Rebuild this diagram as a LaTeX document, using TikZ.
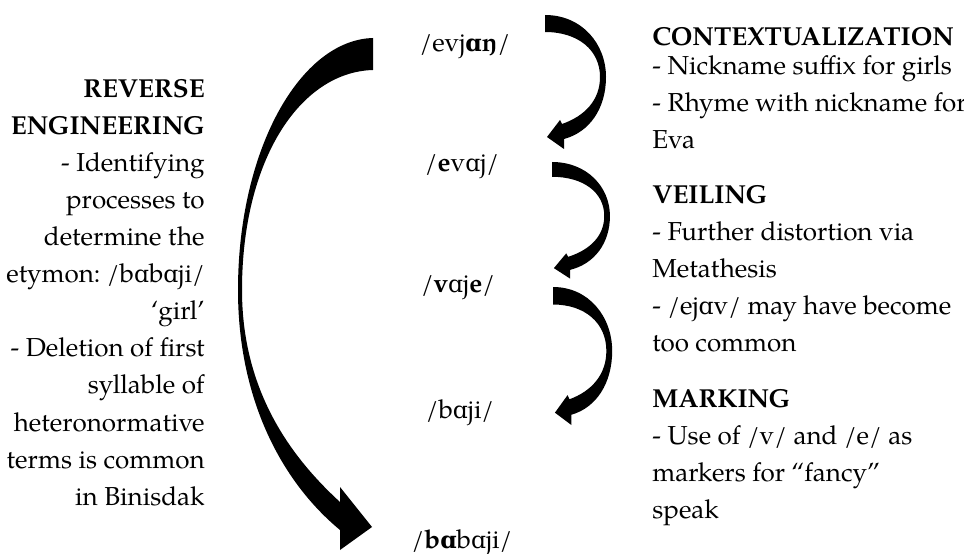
\documentclass[tikz,border=0pt]{standalone}
\usepackage{fontspec}
\setmainfont{texgyrepagella}[Extension=.otf, UprightFont=*-regular, BoldFont=*-bold, ItalicFont=*-italic, BoldItalicFont=*-bolditalic]
\newfontfamily\ipafont{DejaVu Serif}[Scale=MatchLowercase]
\newcommand{\alp}{{\ipafont ɑ}}
\frenchspacing
\usetikzlibrary{positioning}
\tikzstyle{word} = [
    inner sep=0pt,
    anchor=base,
    font=\fontsize{14.8}{21.1}\selectfont
]
\tikzstyle{note} = [
    inner sep=0pt,
    font=\fontsize{14.8}{21.1}\selectfont
]
\tikzset{
    bendarrow/.pic={
        \fill (0,0) .. controls (37,0) and (61,29) .. (61,62) .. controls (61,93) and (45,117) .. (19,124) -- (19,134) -- (2,122) -- (15,105) -- (17,109) .. controls (40,101) and (55,85) .. (55,62) .. controls (55,35) and (33,17) .. (0,17) -- cycle;
    }
}

\begin{document}
\begin{tikzpicture}[x=0.02cm, y=-0.02cm]
\useasboundingbox (0,0) rectangle (964,554);

% Nodes
\node[word] (evjan) at (465,52) {/evj\textbf{\alp ŋ}/};
\node[word] (evaj) at (462,172) {/\textbf{e}v\alp j/};
\node[word] (vaje) at (458,292) {/\textbf{v}\alp j\textbf{e}/};
\node[word] (baji) at (460,418) {/b\alp ji/};
\node[word] (babaji) at (462,548) {/\textbf{b\alp}b\alp ji/};

% Notes
\node[note, align=right, anchor=north east] (reverse) at (205,79) {\textbf{REVERSE}\\ \textbf{ENGINEERING}\\ - Identifying\\ processes to\\ determine the\\ etymon: /b\alp b\alp ji/\\ ‘girl’\\ - Deletion of first\\ syllable of\\ heteronormative\\ terms is common\\ in Binisdak};
\node[note, align=left, anchor=north west] (context) at (652,27) {\textbf{CONTEXTUALIZATION}\\[-0.16cm] - Nickname suffix for girls\\ - Rhyme with nickname for\\ Eva};
\node[note, align=left, anchor=north west] (veiling) at (652,185) {\textbf{VEILING}\\ - Further distortion via\\ Metathesis\\ - /ej\alp v/ may have become\\ too common};
\node[note, align=left, anchor=north west] (marking) at (652,389) {\textbf{MARKING}\\ - Use of /v/ and /e/ as\\ markers for “fancy”\\ speak};

% Arrows
\path (545,15) pic {bendarrow};
\path (552,162) pic[xscale=0.95, yscale=0.87] {bendarrow};
\path (553,287) pic[xscale=0.97, yscale=1.03] {bendarrow};
\fill (373,38) .. controls (300,40) and (238,150) .. (238,290) .. controls (238,400) and (282,482) .. (340,530) -- (340,550) -- (372,527) -- (340,487) -- (340,502) .. controls (292,458) and (242,392) .. (242,290) .. controls (242,160) and (300,72) .. (373,70) -- cycle;

\end{tikzpicture}
\end{document}
